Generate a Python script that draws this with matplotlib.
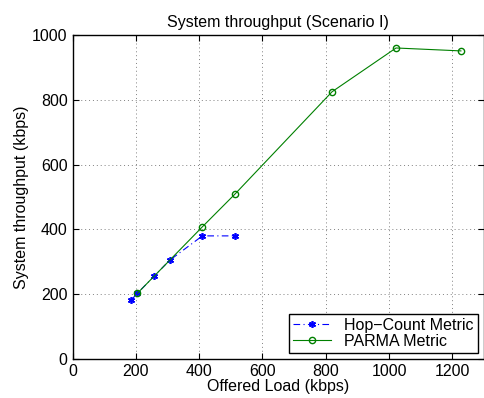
import matplotlib
matplotlib.use("Agg")
import matplotlib.pyplot as plt

plt.rcParams["font.family"] = ["Liberation Sans", "DejaVu Sans"]

# offered load (kbps) and throughput (kbps) per metric
hop_load = [185, 205, 257, 307, 410, 512]
hop_tput = [182, 203, 255, 305, 380, 380]
parma_load = [205, 410, 512, 820, 1022, 1227]
parma_tput = [203, 408, 508, 825, 960, 951]

x_ticks = [0, 200, 400, 600, 800, 1000, 1200]
y_ticks = [0, 200, 400, 600, 800, 1000]

FS = 11.5

fig = plt.figure(figsize=(4.84, 3.98), dpi=100)
ax = fig.add_axes([0.150, 0.098, 0.850, 0.814])

ax.plot(hop_load, hop_tput, color="blue", linestyle=(0, (6, 3, 1, 3)), linewidth=0.8,
        marker=(6, 2, 0), markersize=5, markeredgewidth=1.2,
        label="Hop\u2212Count Metric")
ax.plot(parma_load, parma_tput, color=(0, 0.5, 0), linestyle="-", linewidth=0.8,
        marker="o", markersize=4.5, markerfacecolor="none", label="PARMA Metric")

ax.set_xlim(0, 1300)
ax.set_ylim(0, 1000)
ax.set_xticks(x_ticks)
ax.set_yticks(y_ticks)
ax.tick_params(direction="in", top=True, right=True, labelsize=FS, length=4)
ax.grid(True, linestyle=(0, (1, 3)), color="gray", linewidth=0.7)
for s in ax.spines.values():
    s.set_linewidth(1.0)

ax.set_title("System throughput (Scenario I)", fontsize=FS)
ax.set_xlabel("Offered Load (kbps)", fontsize=FS, labelpad=0)
ax.set_ylabel("System throughput (kbps)", fontsize=FS, labelpad=2)

leg = ax.legend(loc="lower right", fontsize=FS, fancybox=False, framealpha=1,
                edgecolor="black", borderaxespad=0.4, handlelength=2.4,
                borderpad=0.25, labelspacing=0.05)
leg.get_frame().set_linewidth(1.0)

fig.savefig("out.png", dpi=100)
